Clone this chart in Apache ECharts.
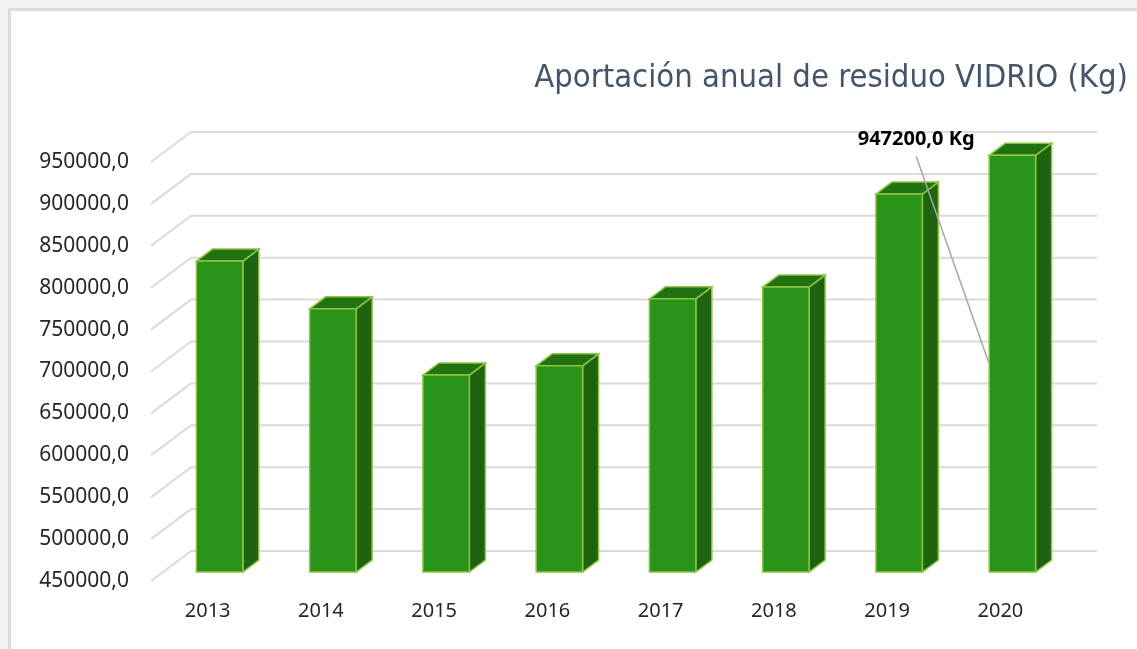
<!DOCTYPE html>
<html>
<head>
<meta charset="utf-8">
<title>Aportación anual de residuo VIDRIO</title>
<script src="https://cdn.jsdelivr.net/npm/echarts@6/dist/echarts.min.js"></script>
<style>
  html, body { margin: 0; padding: 0; background: #f2f2f2; }
  #chart { width: 1137px; height: 649px; }
</style>
</head>
<body>
<div id="chart"></div>
<script>
// datos
var years = ['2013', '2014', '2015', '2016', '2017', '2018', '2019', '2020'];
var vidrioKg = [821000, 764000, 685000, 696000, 776000, 790000, 901000, 947200];
var yTicks = [450000, 500000, 550000, 600000, 650000, 700000, 750000, 800000, 850000, 900000, 950000];
var labelIndex = 7; // solo el ultimo lleva etiqueta

// profundidad "3D" del grafico (como Excel)
var DX = 40, DY = -30;
var FRONT = 0.3, DEPTH = 0.4;

var chart = echarts.init(document.getElementById('chart'));

function fmt(v) {
    return v.toFixed(1).replace('.', ',');
}

var option = {
    animation: false,
    graphic: [{
        type: 'rect',
        z: -10,
        shape: { x: 9.5, y: 9.5, width: 1140, height: 650 },
        style: { fill: '#ffffff', stroke: '#dcdcdc', lineWidth: 3 }
    }],
    title: {
        text: 'Aportación anual de residuo VIDRIO (Kg)',
        right: 4,
        top: 57,
        textStyle: {
            color: '#44546a',
            fontSize: 32.5,
            fontWeight: 'normal',
            fontFamily: '"DejaVu Sans Condensed", "Liberation Sans Narrow", "Noto Sans", sans-serif'
        }
    },
    grid: { left: 151, right: 80, top: 162, bottom: 68 },
    xAxis: {
        type: 'category',
        data: years,
        axisLine: { show: false },
        axisTick: { show: false },
        axisLabel: { color: '#262626', fontSize: 20, fontFamily: '"Noto Sans", sans-serif', margin: 20 }
    },
    yAxis: {
        type: 'value',
        min: yTicks[0],
        max: yTicks[yTicks.length - 1],
        interval: 50000,
        axisLine: { show: false },
        axisTick: { show: false },
        splitLine: { show: false },
        axisLabel: {
            color: '#262626', fontSize: 21, fontFamily: '"Noto Sans", sans-serif', margin: 22,
            formatter: fmt
        }
    },
    series: [{
        // lineas de la cuadricula (pared lateral + fondo)
        type: 'custom',
        silent: true,
        z: 1,
        data: yTicks.map(function(v) { return [0, v]; }),
        encode: { x: 0, y: 1 },
        renderItem: function(params, api) {
            var cs = params.coordSys;
            var y = api.coord([0, api.value(1)])[1];
            var x0 = cs.x, x1 = cs.x + cs.width;
            var st = { stroke: '#dadada', lineWidth: 2 };
            return {
                type: 'group',
                children: [
                    { type: 'line', shape: { x1: x0, y1: y, x2: x0 + DX, y2: y + DY }, style: st },
                    { type: 'line', shape: { x1: x0 + DX, y1: y + DY, x2: x1 + DX, y2: y + DY }, style: st }
                ]
            };
        }
    }, {
        type: 'custom',
        name: 'Vidrio',
        z: 2,
        data: vidrioKg.map(function(v, i) { return [i, v]; }),
        encode: { x: 0, y: 1 },
        renderItem: function(params, api) {
            var i = api.value(0), v = api.value(1);
            var top = api.coord([i, v]);
            var base = api.coord([i, yTicks[0]]);
            var w = api.size([1, 0])[0] * 0.41;
            var ox = FRONT * DX, oy = FRONT * DY;
            var sx = DEPTH * DX, sy = DEPTH * DY;
            var xl = top[0] - w / 2 + ox, xr = xl + w;
            var yt = top[1] + oy, yb = base[1] + oy;
            var edge = '#8fc446';
            var kids = [
                { type: 'polygon', shape: { points: [[xr, yt], [xr + sx, yt + sy], [xr + sx, yb + sy], [xr, yb]] },
                  style: { fill: '#1d6310', stroke: edge, lineWidth: 1.5 } },
                { type: 'polygon', shape: { points: [[xl, yt], [xl + sx, yt + sy], [xr + sx, yt + sy], [xr, yt]] },
                  style: { fill: '#217211', stroke: edge, lineWidth: 1.5 } },
                { type: 'rect', shape: { x: xl, y: yt, width: w, height: yb - yt },
                  style: { fill: '#2a9319', stroke: edge, lineWidth: 1.5 } }
            ];
            return { type: 'group', children: kids };
        }
    }, {
        // etiqueta con linea guia
        type: 'custom',
        silent: true,
        z: 5,
        data: [[labelIndex, vidrioKg[labelIndex]]],
        encode: { x: 0, y: 1 },
        renderItem: function(params, api) {
            var i = api.value(0), v = api.value(1);
            var top = api.coord([i, v]);
            var base = api.coord([i, yTicks[0]]);
            var w = api.size([1, 0])[0] * 0.41;
            var xl = top[0] - w / 2 + FRONT * DX;
            var yt = top[1] + FRONT * DY;
            var yb = base[1] + FRONT * DY;
            var lx = xl - 73, ly = yt - 16;
            return {
                type: 'group',
                children: [
                    { type: 'line', shape: { x1: lx, y1: ly + 17, x2: xl, y2: (yt + yb) / 2 },
                      style: { stroke: '#a6a6a6', lineWidth: 1.5 } },
                    { type: 'text', x: lx, y: ly,
                      style: { text: fmt(v) + ' Kg', fill: '#000', fontSize: 20, fontWeight: 'bold',
                               fontFamily: '"Noto Sans", sans-serif', align: 'center', verticalAlign: 'middle' } }
                ]
            };
        }
    }]
};

chart.setOption(option);
</script>
</body>
</html>
